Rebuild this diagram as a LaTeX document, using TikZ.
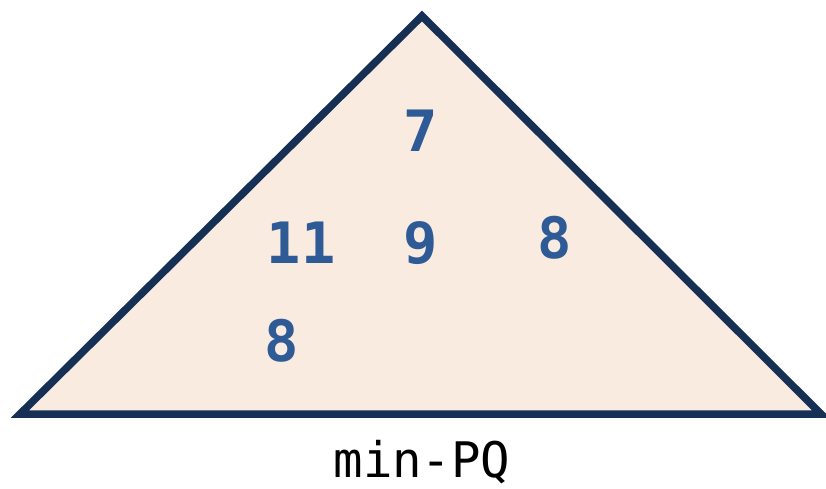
\documentclass[tikz,border=0pt]{standalone}
\usepackage{fontspec}
\newfontfamily\monofont{DejaVu Sans Mono}
\definecolor{heapfill}{RGB}{250,235,224}
\definecolor{heapline}{RGB}{22,47,84}
\definecolor{keyblue}{RGB}{46,90,150}
\begin{document}
\begin{tikzpicture}[x=1pt,y=-1pt,
  key/.style={inner sep=0pt,anchor=base,text=keyblue,font=\monofont\bfseries\fontsize{57}{60}\selectfont},
  caption/.style={inner sep=0pt,anchor=base,text=black,font=\monofont\fontsize{49}{52}\selectfont}]
\useasboundingbox (0,0) rectangle (826,489);
\coordinate (apex) at (422,16);
\coordinate (bl) at (20,414);
\coordinate (br) at (821,414);
\draw[fill=heapfill,draw=heapline,line width=7.5pt,line join=miter] (apex) -- (br) -- (bl) -- cycle;
\node[key] (k7) at (421,152) {7};
\node[key] (k11) at (301,263) {11};
\node[key] (k9) at (421,263) {9};
\node[key] (k8r) at (555,258) {8};
\node[key] (k8b) at (282,361) {8};
\node[caption] (cap) at (422,477) {min-PQ};
\end{tikzpicture}
\end{document}
